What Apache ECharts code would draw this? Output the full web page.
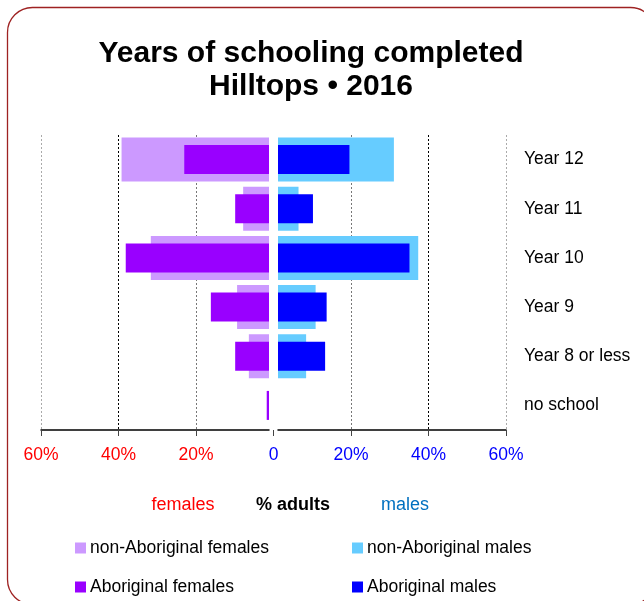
<!DOCTYPE html>
<html>
<head>
<meta charset="utf-8">
<script src="https://cdn.jsdelivr.net/npm/echarts@6/dist/echarts.min.js"></script>
<style>
  html, body { margin: 0; padding: 0; background: #fff; }
  #chart { width: 644px; height: 601px; }
</style>
</head>
<body>
<div id="chart"></div>
<script>
// Schooling levels, top to bottom
const categories = ['Year 12', 'Year 11', 'Year 10', 'Year 9', 'Year 8 or less', 'no school'];

// Percent of adults in each group
const nonAboriginalFemales = [38.8, 6.8, 31.1, 8.4, 5.3, 0];
const aboriginalFemales    = [22.3, 8.9, 37.7, 15.3, 8.9, 0.6];
const nonAboriginalMales   = [30.5, 5.4, 36.9, 9.9, 7.4, 0];
const aboriginalMales      = [18.8, 9.2, 34.6, 12.8, 12.4, 0];

// Shared percentage scale (females to the left, males to the right)
const scaleTicks = [-60, -40, -20, 0, 20, 40, 60];

const FONT = 'Liberation Sans, Arial, sans-serif';
const C_NON_F = '#CC99FF', C_ABO_F = '#9900FF', C_NON_M = '#66CCFF', C_ABO_M = '#0000FF';

const chart = echarts.init(document.getElementById('chart'), null, { renderer: 'canvas' });

// hidden category axis; each series gets its own so wide and narrow bars share a centre line
function catAxis(gridIndex, extra) {
  return Object.assign({
    gridIndex: gridIndex, type: 'category', data: categories, inverse: true,
    axisLine: { show: false }, axisTick: { show: false }, axisLabel: { show: false }
  }, extra || {});
}

chart.setOption({
  backgroundColor: '#fff',
  animation: false,
  title: {
    text: 'Years of schooling completed\nHilltops \u2022 2016',
    left: 306,
    top: 32,
    textAlign: 'center',
    textStyle: {
      fontFamily: FONT,
      fontSize: 30,
      fontWeight: 'bold',
      lineHeight: 33,
      color: '#000'
    }
  },
  legend: [
    {
      data: ['non-Aboriginal females', 'Aboriginal females'],
      orient: 'vertical', left: 75, top: 539, padding: 0, itemGap: 21,
      icon: 'rect', itemWidth: 11, itemHeight: 11,
      textStyle: { fontFamily: FONT, fontSize: 17.5, color: '#000', padding: [0, 0, 0, -1] }
    },
    {
      data: ['non-Aboriginal males', 'Aboriginal males'],
      orient: 'vertical', left: 352, top: 539, padding: 0, itemGap: 21,
      icon: 'rect', itemWidth: 11, itemHeight: 11,
      textStyle: { fontFamily: FONT, fontSize: 17.5, color: '#000', padding: [0, 0, 0, -1] }
    }
  ],
  grid: [
    { left: 41, top: 135, width: 228, height: 295 },   // females
    { left: 278, top: 135, width: 228, height: 295 },  // males
    { left: 41, top: 135, width: 465, height: 295 }    // shared scale, ticks and guides
  ],
  xAxis: [
    {
      gridIndex: 0, type: 'value', inverse: true, min: 0, max: 60, interval: 20,
      axisLine: { show: true, lineStyle: { color: '#000', width: 1.5 } },
      axisTick: { show: false }, axisLabel: { show: false }, splitLine: { show: false }
    },
    {
      gridIndex: 1, type: 'value', min: 0, max: 60, interval: 20,
      axisLine: { show: true, lineStyle: { color: '#000', width: 1.5 } },
      axisTick: { show: false }, axisLabel: { show: false }, splitLine: { show: false }
    },
    {
      gridIndex: 2, type: 'value', min: scaleTicks[0], max: scaleTicks[scaleTicks.length - 1], interval: 20,
      axisLine: { show: false },
      axisTick: { show: true, length: 6, lineStyle: { color: '#444', width: 1 } },
      axisLabel: {
        margin: 16,
        fontFamily: FONT, fontSize: 17.5,
        formatter: v => v === 0 ? '0' : Math.abs(v) + '%',
        color: v => (Number(v) < 0 ? '#FF0000' : '#0000FF')
      },
      splitLine: {
        show: true,
        lineStyle: {
          type: [2, 2], width: 1,
          color: ['#aaaaaa', '#000000', '#777777', 'rgba(0,0,0,0)', '#777777', '#000000', '#aaaaaa']
        }
      }
    },
    {
      gridIndex: 0, type: 'value', inverse: true, min: 0, max: 60, show: false
    },
    {
      gridIndex: 1, type: 'value', min: 0, max: 60, show: false
    }
  ],
  yAxis: [
    catAxis(0),
    catAxis(1, {
      position: 'right',
      axisLabel: { show: true, margin: 18, fontFamily: FONT, fontSize: 17.5, color: '#000', align: 'left' }
    }),
    { gridIndex: 2, type: 'value', show: false },
    catAxis(0),
    catAxis(1)
  ],
  series: [
    {
      type: 'bar', name: 'non-Aboriginal females', xAxisIndex: 0, yAxisIndex: 0,
      data: nonAboriginalFemales, barWidth: 44, itemStyle: { color: C_NON_F }
    },
    {
      type: 'bar', name: 'Aboriginal females', xAxisIndex: 3, yAxisIndex: 3,
      data: aboriginalFemales, barWidth: 29, itemStyle: { color: C_ABO_F }, z: 3
    },
    {
      type: 'bar', name: 'non-Aboriginal males', xAxisIndex: 1, yAxisIndex: 1,
      data: nonAboriginalMales, barWidth: 44, itemStyle: { color: C_NON_M }
    },
    {
      type: 'bar', name: 'Aboriginal males', xAxisIndex: 4, yAxisIndex: 4,
      data: aboriginalMales, barWidth: 29, itemStyle: { color: C_ABO_M }, z: 3
    }
  ],
  graphic: [
    {
      type: 'rect', silent: true, z: -1,
      shape: { x: 7.5, y: 7.5, width: 648, height: 597, r: 25 },
      style: { fill: 'none', stroke: '#9e2222', lineWidth: 1.3 }
    },
    {
      type: 'text', x: 183, y: 505,
      style: { text: 'females', fill: '#FF0000', font: '18px ' + FONT, textAlign: 'center', textVerticalAlign: 'middle' }
    },
    {
      type: 'text', x: 293, y: 505,
      style: { text: '% adults', fill: '#000', font: 'bold 18px ' + FONT, textAlign: 'center', textVerticalAlign: 'middle' }
    },
    {
      type: 'text', x: 405, y: 505,
      style: { text: 'males', fill: '#0070C0', font: '18px ' + FONT, textAlign: 'center', textVerticalAlign: 'middle' }
    }
  ]
});
</script>
</body>
</html>
